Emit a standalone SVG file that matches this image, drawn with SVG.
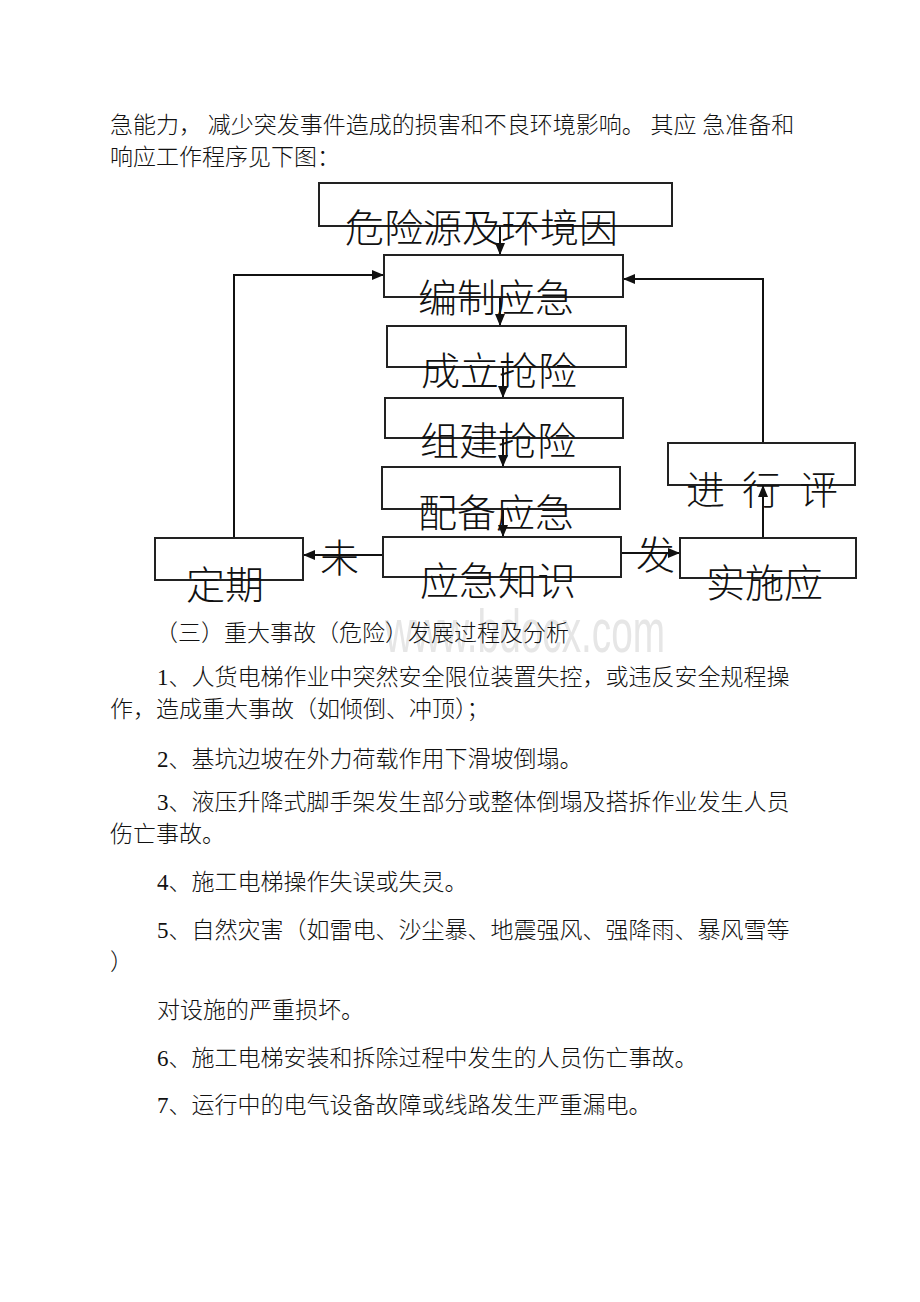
<svg xmlns="http://www.w3.org/2000/svg" width="920" height="1302" viewBox="0 0 920 1302">
<style>
  .body { font-family: "Liberation Serif", "Noto Sans CJK SC", serif; font-size: 23px; fill: #111; font-weight: 300; }
  .big { font-family: "Liberation Serif", "Noto Sans CJK SC", serif; font-size: 39px; fill: #111; font-weight: 300; }
  .box { fill: none; stroke: #222; stroke-width: 2; }
  .line { fill: none; stroke: #111; stroke-width: 2; }
  .wm { font-family: "Liberation Sans", Arial, sans-serif; font-size: 62px; fill: #e6e6e6; }
</style>
<defs>
  <marker id="arrow" markerUnits="userSpaceOnUse" markerWidth="12" markerHeight="10" refX="12" refY="5" orient="auto">
    <path d="M0,0 L12,5 L0,10 z" fill="#111"/>
  </marker>
</defs>
<rect width="920" height="1302" fill="#fff"/>

<g id="intro">
  <text class="body" x="110" y="133">急能力， 减少突发事件造成的损害和不良环境影响。 其应 急准备和</text>
  <text class="body" x="110" y="165">响应工作程序见下图：</text>
</g>

<g id="connectors">
  <line class="line" x1="500" y1="226" x2="500" y2="255" marker-end="url(#arrow)"/>
  <line class="line" x1="500" y1="297" x2="500" y2="326" marker-end="url(#arrow)"/>
  <line class="line" x1="503" y1="367" x2="503" y2="398" marker-end="url(#arrow)"/>
  <line class="line" x1="503" y1="438" x2="503" y2="467" marker-end="url(#arrow)"/>
  <line class="line" x1="503" y1="509" x2="503" y2="537" marker-end="url(#arrow)"/>
  <line class="line" x1="383" y1="555" x2="303" y2="555" marker-end="url(#arrow)"/>
  <line class="line" x1="621" y1="553" x2="680" y2="553" marker-end="url(#arrow)"/>
  <line class="line" x1="763" y1="538" x2="763" y2="485" marker-end="url(#arrow)"/>
  <polyline class="line" points="763,443 763,279 623,279" marker-end="url(#arrow)"/>
  <polyline class="line" points="234,538 234,275 384,275" marker-end="url(#arrow)"/>
  <text class="big" x="320" y="572">未</text>
  <text class="big" x="636" y="569">发</text>
</g>

<g id="node-hazard">
  <rect class="box" x="319" y="183" width="353" height="43"/>
  <text class="big" x="345" y="242">危险源及环境因</text>
</g>
<g id="node-plan">
  <rect class="box" x="384" y="255" width="239" height="42"/>
  <text class="big" x="418" y="312">编制应急</text>
</g>
<g id="node-establish">
  <rect class="box" x="387" y="326" width="239" height="41"/>
  <text class="big" x="421" y="385">成立抢险</text>
</g>
<g id="node-build">
  <rect class="box" x="385" y="398" width="238" height="40"/>
  <text class="big" x="420" y="455">组建抢险</text>
</g>
<g id="node-equip">
  <rect class="box" x="382" y="467" width="238" height="42"/>
  <text class="big" x="418" y="527">配备应急</text>
</g>
<g id="node-knowledge">
  <rect class="box" x="383" y="537" width="238" height="40"/>
  <text class="big" x="420" y="595">应急知识</text>
</g>
<g id="node-periodic">
  <rect class="box" x="155" y="538" width="148" height="42"/>
  <text class="big" x="186" y="599">定期</text>
</g>
<g id="node-implement">
  <rect class="box" x="680" y="538" width="176" height="40"/>
  <text class="big" x="706" y="597">实施应</text>
</g>
<g id="node-evaluate">
  <rect class="box" x="668" y="443" width="187" height="42"/>
  <text class="big" x="686 725 742 781 799" y="504" xml:space="preserve">进 行 评</text>
</g>

<g id="watermark">
  <text class="wm" x="385" y="652" textLength="280" lengthAdjust="spacingAndGlyphs">www.bdocx.com</text>
</g>

<g id="body">
  <text class="body" x="155" y="641">（三）重大事故（危险）发展过程及分析</text>
  <text class="body" x="157" y="685">1、人货电梯作业中突然安全限位装置失控，或违反安全规程操</text>
  <text class="body" x="110" y="717">作，造成重大事故（如倾倒、冲顶）；</text>
  <text class="body" x="157" y="767">2、基坑边坡在外力荷载作用下滑坡倒塌。</text>
  <text class="body" x="157" y="810">3、液压升降式脚手架发生部分或整体倒塌及搭拆作业发生人员</text>
  <text class="body" x="110" y="842">伤亡事故。</text>
  <text class="body" x="157" y="890">4、施工电梯操作失误或失灵。</text>
  <text class="body" x="157" y="938">5、自然灾害（如雷电、沙尘暴、地震强风、强降雨、暴风雪等</text>
  <text class="body" x="110" y="970">）</text>
  <text class="body" x="157" y="1018">对设施的严重损坏。</text>
  <text class="body" x="157" y="1066">6、施工电梯安装和拆除过程中发生的人员伤亡事故。</text>
  <text class="body" x="157" y="1113">7、运行中的电气设备故障或线路发生严重漏电。</text>
</g>
</svg>
